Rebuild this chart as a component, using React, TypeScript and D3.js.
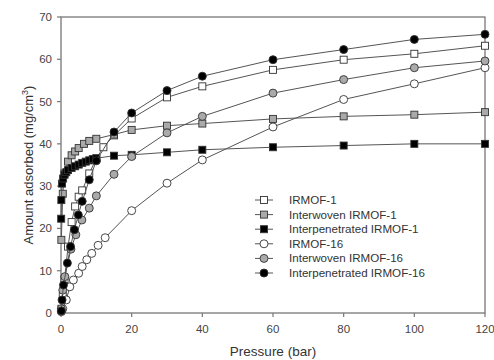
import React from "react";
import * as d3 from "d3";

// [pressure (bar), amount adsorbed (mg/cm3)]
const irmof1: [number, number][] = [
  [0.1, 1], [0.5, 4], [1, 8], [2, 15.7], [3, 21.5], [4, 25.2], [5, 27.5], [6, 29], [8, 33],
  [10, 36.5], [12, 39.2], [15, 42], [20, 46], [30, 51], [40, 53.6], [60, 57.5], [80, 59.9],
  [100, 61.3], [120, 63.2],
];
const interwovenIrmof1: [number, number][] = [
  [0.1, 17.3], [0.5, 28.2], [1, 33], [2, 35.8], [3, 37.3], [4, 38.2], [5, 39], [6.5, 40],
  [8, 40.7], [10, 41.2], [15, 42.2], [20, 43.3], [30, 44.3], [40, 44.8], [60, 45.9],
  [80, 46.5], [100, 46.9], [120, 47.5],
];
const interpenIrmof1: [number, number][] = [
  [0.05, 22.3], [0.1, 26.7], [0.3, 30.6], [0.6, 31.8], [1, 32.7], [1.5, 33.3], [2, 33.8],
  [3, 34.3], [4, 34.7], [5, 35.1], [6, 35.5], [7, 35.8], [8, 36.1], [9, 36.4], [10, 36.6],
  [15, 37.2], [20, 37.4], [30, 38], [40, 38.6], [60, 39.2], [80, 39.6], [100, 40], [120, 40],
];
const irmof16: [number, number][] = [
  [0.1, 0.3], [0.5, 1], [1.5, 3.1], [2.5, 6.2], [3.5, 7.8], [5, 9.4], [6, 11], [7.3, 12.6],
  [8.7, 14.1], [10.5, 16], [12.5, 17.8], [20, 24.2], [30, 30.7], [40, 36.2], [60, 44],
  [80, 50.5], [100, 54.2], [120, 58],
];
const interwovenIrmof16: [number, number][] = [
  [0.1, 1], [0.5, 5.4], [1.1, 8.6], [2.8, 15.1], [4.2, 18.5], [5.9, 22], [8, 24.8],
  [10, 27.7], [15, 32.8], [20, 37], [30, 42.6], [40, 46.5], [60, 52], [80, 55.2],
  [100, 58], [120, 59.6],
];
const interpenIrmof16: [number, number][] = [
  [0.1, 0.5], [0.3, 3.1], [0.7, 6.6], [1.8, 11.8], [2.7, 15.7], [3.8, 19.7], [4.9, 23.2],
  [6, 26.4], [8, 31.5], [10, 36], [15, 42.8], [20, 47.3], [30, 52.6], [40, 56], [60, 59.9],
  [80, 62.3], [100, 64.7], [120, 65.9],
];

const xTicks = [0, 20, 40, 60, 80, 100, 120];
const yTicks = [0, 10, 20, 30, 40, 50, 60, 70];

const series = [
  { name: "IRMOF-1", data: irmof1, shape: "square", fill: "#fff" },
  { name: "Interwoven IRMOF-1", data: interwovenIrmof1, shape: "square", fill: "#aaa" },
  { name: "Interpenetrated IRMOF-1", data: interpenIrmof1, shape: "square", fill: "#000" },
  { name: "IRMOF-16", data: irmof16, shape: "circle", fill: "#fff" },
  { name: "Interwoven IRMOF-16", data: interwovenIrmof16, shape: "circle", fill: "#aaa" },
  { name: "Interpenetrated IRMOF-16", data: interpenIrmof16, shape: "circle", fill: "#000" },
];

const W = 494, H = 360;
const margin = { left: 61, top: 17, right: 9, bottom: 47 };

const Marker = ({ x, y, shape, fill }: { x: number; y: number; shape: string; fill: string }) =>
  shape === "square" ? (
    <rect x={x - 3.5} y={y - 3.5} width={7} height={7} fill={fill} stroke="#333" strokeWidth={0.9} />
  ) : (
    <circle cx={x} cy={y} r={4} fill={fill} stroke="#333" strokeWidth={0.9} />
  );

export default function App() {
  const x = d3.scaleLinear().domain([0, 120]).range([margin.left, W - margin.right]);
  const y = d3.scaleLinear().domain([0, 70]).range([H - margin.bottom, margin.top]);
  const line = d3.line<[number, number]>().x(d => x(d[0])).y(d => y(d[1]));
  const font = "Arial, 'Liberation Sans', Helvetica, sans-serif";
  const x0 = x(0), x1 = x(120), y0 = y(0), y1 = y(70);

  return (
    <svg width={W} height={H} style={{ position: "absolute", left: 0, top: 0, background: "#fff" }} fontFamily={font}>
      <rect width={W} height={H} fill="#fff" />
      {/* frame */}
      <rect x={x0} y={y1} width={x1 - x0} height={y0 - y1} fill="none" stroke="#777" strokeWidth={1.3} />
      {yTicks.map(t => (
        <g key={"y" + t}>
          <line x1={x0 - 4} x2={x0} y1={y(t)} y2={y(t)} stroke="#777" strokeWidth={1.2} />
          <text x={x0 - 9} y={y(t)} dy="0.35em" textAnchor="end" fontSize={11.5} fill="#444">{t}</text>
        </g>
      ))}
      {xTicks.map(t => (
        <g key={"x" + t}>
          <line x1={x(t)} x2={x(t)} y1={y0} y2={y0 + 4} stroke="#777" strokeWidth={1.2} />
          <text x={x(t)} y={y0 + 16} dy="0.35em" textAnchor="middle" fontSize={11.5} fill="#444">{t}</text>
        </g>
      ))}
      <text x={(x0 + x1) / 2} y={H - 4} textAnchor="middle" fontSize={13.5} fill="#333">Pressure (bar)</text>
      <text transform={`translate(28, ${(y0 + y1) / 2}) rotate(-90)`} textAnchor="middle" dy="0.35em" fontSize={13} fill="#333">
        Amount adsorbed (mg/cm<tspan dy="-5" fontSize={9}>3</tspan><tspan dy="5">)</tspan>
      </text>
      {/* series */}
      {series.map(s => (
        <g key={s.name}>
          <path d={line(s.data) || ""} fill="none" stroke="#555" strokeWidth={1} />
          {s.data.map((d, i) => (
            <Marker key={i} x={x(d[0])} y={y(d[1])} shape={s.shape} fill={s.fill} />
          ))}
        </g>
      ))}
      {/* legend */}
      {series.map((s, i) => {
        const ly = 200 + i * 14.6;
        return (
          <g key={"lg" + s.name}>
            <line x1={255} x2={273} y1={ly} y2={ly} stroke="#555" strokeWidth={1} />
            <Marker x={264} y={ly} shape={s.shape} fill={s.fill} />
            <text x={289} y={ly} dy="0.35em" fontSize={11.6} fill="#333">{s.name}</text>
          </g>
        );
      })}
    </svg>
  );
}
